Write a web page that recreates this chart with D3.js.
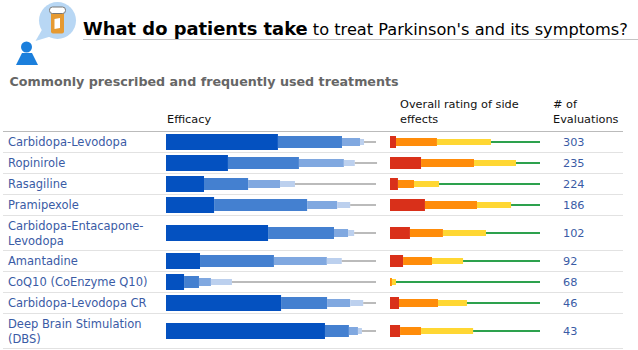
<!DOCTYPE html>
<html>
<head>
<meta charset="utf-8">
<script src="https://cdn.jsdelivr.net/npm/d3@7"></script>
<style>
  html, body { margin: 0; padding: 0; background: #fff; }
  svg { display: block; }
  text { font-family: "DejaVu Sans", Verdana, sans-serif; }
</style>
</head>
<body>
<script>
let width = 638;
let height = 350;

const treatments = [
  ["Carbidopa-Levodopa"],
  ["Ropinirole"],
  ["Rasagiline"],
  ["Pramipexole"],
  ["Carbidopa-Entacapone-", "Levodopa"],
  ["Amantadine"],
  ["CoQ10 (CoEnzyme Q10)"],
  ["Carbidopa-Levodopa CR"],
  ["Deep Brain Stimulation", "(DBS)"]
];
const evaluations = [303, 235, 224, 186, 102, 92, 68, 46, 43];

// efficacy percentages: major, moderate, slight, none at all, can't tell
const efficacyMajor = [53.3, 29.5, 18.1, 22.9, 48.6, 16.2, 8.6, 54.8, 75.7];
const efficacyModerate = [30.5, 33.8, 21, 44.3, 31.4, 35.2, 7.1, 21.9, 11.4];
const efficacySlight = [8.6, 21.4, 15.2, 14.3, 6.7, 25.2, 5.7, 11, 4.3];
const efficacyNone = [1.9, 5.2, 7.1, 6.2, 2.9, 7.1, 10, 6.2, 1.9];
const efficacyUnknown = [5.7, 10.6, 38.6, 12.3, 10.4, 16.3, 68.6, 6.1, 6.7];

// side effect percentages: severe, moderate, mild, none
const sideSevere = [4, 20.7, 5.3, 23.3, 13.3, 8.7, 0, 6, 6.7];
const sideModerate = [27.3, 35.3, 10.7, 34.7, 22, 19.3, 1.3, 26, 14];
const sideMild = [36, 28, 16.7, 22.7, 28.7, 20.7, 2.7, 19.3, 34.7];
const sideNone = [32.7, 16, 67.3, 19.3, 36, 51.3, 96, 48.7, 44.6];

const efficacyColors = ["#0451c0", "#4480d0", "#80a8e0", "#bcd0ee", "#bbbbbb"];
const efficacyHeights = [16, 12, 8, 6, 2];
const sideColors = ["#d9301a", "#ff8c0a", "#ffd733", "#2da14d"];
const sideHeights = [12, 8, 6, 2];

const svg = d3.select("body").append("svg")
    .attr("width", width)
    .attr("height", height);

// header icon
const icon = svg.append("g");
icon.append("path")
    .attr("d", "M35.5 41 L43 28 L52 36 Z")
    .attr("fill", "#b8d7f4");
icon.append("circle").attr("cx", 57.5).attr("cy", 20.5).attr("r", 18.5).attr("fill", "#b8d7f4");
icon.append("rect").attr("x", 51).attr("y", 11).attr("width", 13).attr("height", 22.5).attr("rx", 2).attr("fill", "#e69a32");
icon.append("path").attr("d", "M54.5 19 L60 18 L60 28 L54.5 29 Z").attr("fill", "#fff");
icon.append("rect").attr("x", 49.5).attr("y", 7).attr("width", 16).attr("height", 6.5).attr("rx", 3).attr("fill", "#fff").attr("stroke", "#777").attr("stroke-width", 1);
icon.append("circle").attr("cx", 26.5).attr("cy", 47).attr("r", 5.5).attr("fill", "#1b7fdc");
icon.append("path").attr("d", "M22 53 H32 L38 65 H16 Z").attr("fill", "#1b7fdc");

// title
const title = svg.append("text").attr("x", 83).attr("y", 35).attr("fill", "#000");
title.append("tspan").attr("font-size", 17.9).attr("font-weight", "bold").text("What do patients take");
title.append("tspan").attr("font-size", 16.2).text(" to treat Parkinson's and its symptoms?");
svg.append("line").attr("x1", 83).attr("x2", 638).attr("y1", 39.5).attr("y2", 39.5).attr("stroke", "#c4c4c4");

svg.append("text").attr("x", 9.5).attr("y", 86)
    .attr("font-size", 12.7).attr("font-weight", "bold").attr("fill", "#666")
    .text("Commonly prescribed and frequently used treatments");

// column headers
const header = (x, y, t) => svg.append("text").attr("x", x).attr("y", y)
    .attr("font-size", 11.3).attr("fill", "#111").text(t);
header(167, 123, "Efficacy");
header(400, 108, "Overall rating of side");
header(400, 123, "effects");
header(553, 108, "# of");
header(553, 123, "Evaluations");

// rows get taller when the label wraps
const tableTop = 131;
const rowHeight = treatments.map(t => t.length > 1 ? 35 : 21);
const rowTop = d3.cumsum([0, ...rowHeight]).map(d => tableTop + d);

const efficacyX = d3.scaleLinear().domain([0, 100]).range([166, 376]);
const sideX = d3.scaleLinear().domain([0, 100]).range([390, 540]);

const efficacyRows = d3.zip(efficacyMajor, efficacyModerate, efficacySlight, efficacyNone, efficacyUnknown);
const sideRows = d3.zip(sideSevere, sideModerate, sideMild, sideNone);

svg.selectAll(".rule")
  .data(rowTop)
  .join("line")
    .attr("class", "rule")
    .attr("x1", 3).attr("x2", 623)
    .attr("y1", d => d + 0.5).attr("y2", d => d + 0.5)
    .attr("stroke", (d, i) => i === 0 ? "#bbbbbb" : "#e2e2e2");

// ceil keeps the thin 2px lines on whole pixels
const rows = svg.selectAll(".row")
  .data(treatments)
  .join("g")
    .attr("class", "row")
    .attr("transform", (d, i) => `translate(0,${rowTop[i] + Math.ceil(rowHeight[i] / 2)})`);

rows.each(function(t, i) {
  const row = d3.select(this);

  row.selectAll(".label")
    .data(t)
    .join("text")
      .attr("class", "label")
      .attr("x", 8)
      .attr("y", (d, k) => (t.length > 1 ? 4 : 3.5) + (k - (t.length - 1) / 2) * 15)
      .attr("font-size", 11.5)
      .attr("fill", "#3a5ba5")
      .text(d => d);

  const drawBars = (values, x, colors, heights) => {
    const ends = d3.cumsum(values);
    row.selectAll(null)
      .data(values)
      .join("rect")
        .attr("x", (d, k) => x(ends[k] - d))
        .attr("width", d => x(d) - x(0))
        .attr("y", (d, k) => -heights[k] / 2)
        .attr("height", (d, k) => heights[k])
        .attr("fill", (d, k) => colors[k]);
  };
  drawBars(efficacyRows[i], efficacyX, efficacyColors, efficacyHeights);
  drawBars(sideRows[i], sideX, sideColors, sideHeights);

  row.append("text")
    .attr("x", 563)
    .attr("y", 3.5)
    .attr("font-size", 11.3)
    .attr("fill", "#3a5ba5")
    .text(evaluations[i]);
});
</script>
</body>
</html>
